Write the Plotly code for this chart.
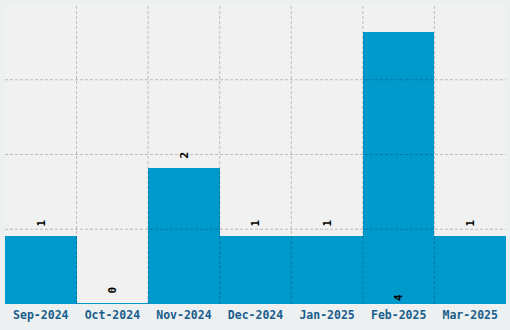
import plotly.graph_objects as go

months = ["Sep-2024", "Oct-2024", "Nov-2024", "Dec-2024", "Jan-2025", "Feb-2025", "Mar-2025"]
counts = [1, 0, 2, 1, 1, 4, 1]
label_pos = ["outside", "outside", "outside", "outside", "outside", "inside", "outside"]

ymax = 4.39
grid_color = "rgba(0,0,0,0.22)"

fig = go.Figure()
fig.add_trace(go.Bar(
    x=months, y=[max(v, 0.008) for v in counts],
    marker=dict(color="#0099cc", line=dict(width=0)),
    text=["\u2009" + str(v) if p == "outside" else str(v) for v, p in zip(counts, label_pos)],
    textposition=label_pos,
    insidetextanchor="start", textangle=-90,
    textfont=dict(family="DejaVu Sans Mono", size=11, color="#000000", weight="bold"),
    cliponaxis=False, hoverinfo="skip",
))

shapes = []
for i in range(len(months) - 1):
    shapes.append(dict(type="line", xref="x", yref="paper", x0=i + 0.5, x1=i + 0.5, y0=0, y1=1,
                       line=dict(color=grid_color, width=1, dash="3px,2px"), layer="above"))
for f in [0.25, 0.5, 0.75]:
    shapes.append(dict(type="line", xref="paper", yref="paper", x0=0, x1=1, y0=f, y1=f,
                       line=dict(color=grid_color, width=1, dash="3px,2px"), layer="above"))

fig.update_layout(
    width=510, height=330,
    margin=dict(l=5, r=4, t=5, b=26),
    paper_bgcolor="#ecf0f1", plot_bgcolor="#f1f1f1",
    bargap=0, showlegend=False, shapes=shapes,
    uniformtext=dict(mode=False),
    xaxis=dict(type="category", range=[-0.5, 6.5], showgrid=False, zeroline=False, showline=False,
               ticks="", ticklabelstandoff=2,
               tickfont=dict(family="DejaVu Sans Mono", size=11.5, color="#1a5e8c", weight="bold")),
    yaxis=dict(range=[0, ymax], showgrid=False, zeroline=False, showticklabels=False, showline=False, ticks=""),
)
fig.write_html("out.html")
